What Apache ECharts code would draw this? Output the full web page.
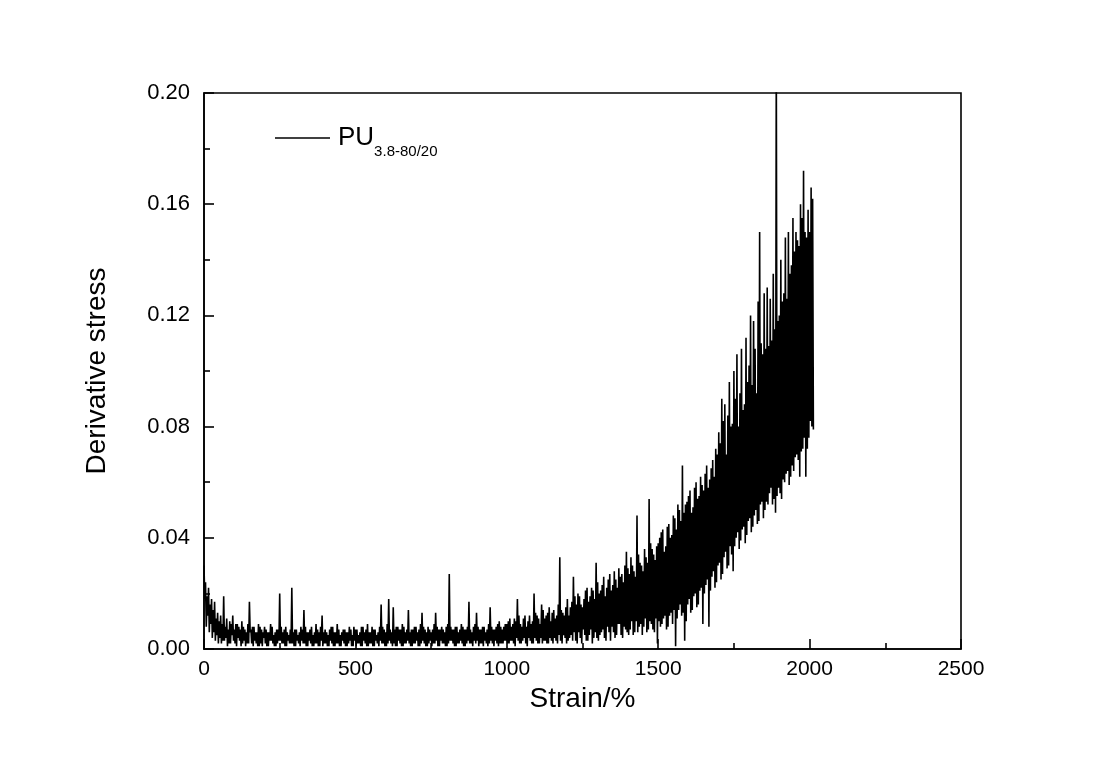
<!DOCTYPE html>
<html>
<head>
<meta charset="utf-8">
<script src="https://cdn.jsdelivr.net/npm/echarts@6/dist/echarts.min.js"></script>
<style>
html,body{margin:0;padding:0;background:#fff;}
#chart{width:1103px;height:773px;}
</style>
</head>
<body>
<div id="chart"></div>
<script>
// Strain (%) between consecutive peak readings; troughs sit half a step later
const STRAIN_STEP = 5;
const TROUGH_OFFSET = 2.5;
// Start strain of each segment
const segmentStarts = [0, 500, 1000, 1500];
// Derivative stress readings (x 0.001): peaks and troughs
const peakA = [30,24,19,22,16,18,14,17,11,13, 10,12,9,19,8,11,7,10,9,12,
 7,9,9,8,7,10,8,7,6,9, 17,7,8,8,6,6,9,8,7,6,
 8,7,6,6,9,8,5,6,7,7, 20,8,6,7,8,6,5,7,22,6,
 7,7,5,6,8,7,14,8,6,6, 7,8,5,6,9,7,6,8,12,6,
 7,6,5,7,8,8,6,6,9,7, 5,6,7,7,6,6,8,7,5,8];
const troughA = [18,8,12,6,9,4,6,3,5,2, 4,2,3,3,4,1,2,2,5,3,
 2,1,4,3,1,2,3,1,2,2, 6,2,1,3,2,1,1,2,1,4,
 2,1,1,3,3,2,1,1,2,3, 3,2,2,1,1,3,2,2,2,1,
 1,3,2,1,3,2,2,1,1,3, 2,1,1,2,2,1,1,3,1,2,
 2,1,1,3,2,1,1,2,2,1, 1,3,2,1,1,2,3,1,1,3];
const peakB = [7,7,5,6,8,8,6,7,9,6, 6,8,7,7,5,6,8,16,8,7,
 6,9,18,7,6,15,7,8,8,7, 7,9,8,6,7,14,6,7,7,8,
 8,6,7,9,13,8,7,6,8,7, 6,7,9,13,8,7,7,8,7,6,
 8,9,27,8,7,7,8,8,6,7, 9,8,7,7,8,17,7,6,8,9,
 13,8,7,7,8,8,6,7,9,15, 8,7,7,8,9,10,8,7,8,9];
const troughB = [1,2,2,1,1,3,2,1,1,2, 2,1,1,3,2,1,3,2,2,1,
 1,2,3,2,1,2,1,1,3,2, 1,1,2,2,3,2,1,1,2,2,
 3,1,1,2,3,2,1,1,2,3, 1,2,2,3,1,1,3,2,2,1,
 1,2,3,3,2,1,1,2,2,3, 2,1,1,2,3,2,2,1,3,2,
 3,1,2,2,1,3,2,1,2,3, 2,1,3,2,1,2,2,2,3,3];
const peakC = [9,10,11,8,9,11,10,18,12,9, 8,11,12,8,10,12,9,10,20,13,
 12,11,9,16,14,11,12,13,15,10, 13,14,11,12,16,33,14,13,12,15,
 18,12,15,17,26,19,16,20,19,16, 15,18,21,22,17,19,22,21,18,31,
 24,20,21,23,26,19,22,25,27,21, 23,28,25,22,29,26,27,24,30,35,
 29,27,33,30,28,26,48,34,31,30, 28,36,33,31,54,38,36,34,32,37];
const troughC = [2,2,3,3,2,1,4,3,2,2, 3,4,2,1,4,3,2,2,4,3,
 2,2,4,2,3,3,2,2,4,3, 2,4,3,2,5,3,2,5,4,2,
 3,4,5,3,6,3,2,6,4,2, 7,5,3,3,5,7,2,4,6,4,
 3,5,6,7,4,3,8,6,3,8, 6,4,5,9,9,5,4,8,7,6,
 5,7,10,5,6,10,6,8,9,5, 8,11,6,7,10,9,7,6,11,2];
const peakD = [38,40,42,43,35,37,44,45,40,41, 48,47,43,52,50,46,66,49,52,53,
 55,57,49,51,58,60,54,55,62,59, 57,63,66,58,61,65,68,62,72,70,
 78,74,90,82,88,70,84,96,80,81, 100,90,106,80,92,108,86,88,112,96,
 102,120,95,118,108,92,125,150,110,106, 128,108,130,109,126,111,135,115,215,118,
 120,140,125,128,148,126,150,135,138,155, 143,150,147,145,160,155,172,150,148,158,
 150,166,162];
const troughD = [10,8,9,11,12,7,8,12,13,9, 14,1,11,14,16,12,13,3,10,16,
 18,13,14,19,20,15,16,21,22,9, 20,23,25,8,21,26,28,22,24,30,
 31,25,27,33,35,29,30,37,34,28, 37,40,42,36,39,43,44,38,41,46,
 47,42,44,48,50,45,46,52,53,47, 50,53,52,56,58,52,54,49,55,58,
 56,54,61,60,63,64,59,62,66,64, 69,70,68,62,71,72,76,62,72,76,
 82,80,79];
const xTickLabels = ['0','500','1000','1500','2000','2500'];
const yTickLabels = ['0.00','0.04','0.08','0.12','0.16','0.20'];
const seriesName = 'PU3.8-80/20';

const peaks = [peakA, peakB, peakC, peakD];
const troughs = [troughA, troughB, troughC, troughD];
const points = [];
peaks.forEach(function (seg, s) {
  seg.forEach(function (v, i) {
    const x0 = segmentStarts[s] + i * STRAIN_STEP;
    points.push([x0, v / 1000]);
    points.push([x0 + TROUGH_OFFSET, troughs[s][i] / 1000]);
  });
});

const FONT = 'Liberation Sans, Arial, sans-serif';
const chart = echarts.init(document.getElementById('chart'), null, {renderer: 'canvas'});
const axisCommon = {
  axisLine: {show: true, onZero: false, lineStyle: {color: '#000', width: 1.6}},
  axisTick: {show: true, inside: true, length: 10, lineStyle: {color: '#000', width: 1.6}},
  minorTick: {show: true, splitNumber: 2, length: 6, lineStyle: {color: '#000', width: 1.6}},
  splitLine: {show: false},
  minorSplitLine: {show: false}
};
chart.setOption({
  animation: false,
  backgroundColor: '#fff',
  grid: {left: 204, right: 142, top: 93, bottom: 124, show: true, borderColor: '#000', borderWidth: 1.6, backgroundColor: 'transparent'},
  legend: {
    left: 270, top: 120,
    itemWidth: 55, itemHeight: 1.5, icon: 'rect', itemGap: 10,
    data: [{name: seriesName}],
    formatter: function () { return '{a|PU}{b|3.8-80/20}'; },
    textStyle: {
      rich: {
        a: {fontSize: 26, fontFamily: FONT, color: '#000', padding: [0, 0, 0, 3]},
        b: {fontSize: 15, fontFamily: FONT, color: '#000', padding: [27, 0, 0, 0]}
      }
    }
  },
  xAxis: Object.assign({
    type: 'value', min: 0, max: 2500, interval: 500,
    name: 'Strain/%', nameLocation: 'middle', nameGap: 29,
    nameTextStyle: {fontSize: 28, fontFamily: FONT, color: '#000'},
    axisLabel: {fontSize: 21, fontFamily: FONT, color: '#000', margin: 10,
      formatter: function (v) { return xTickLabels[Math.round(v / 500)]; }}
  }, axisCommon),
  yAxis: Object.assign({
    type: 'value', min: 0, max: 0.2, interval: 0.04,
    name: 'Derivative stress', nameLocation: 'middle', nameGap: 93,
    nameTextStyle: {fontSize: 28, fontFamily: FONT, color: '#000'},
    axisLabel: {fontSize: 22, fontFamily: FONT, color: '#000', margin: 14,
      formatter: function (v) { return yTickLabels[Math.round(v / 0.04)]; }}
  }, axisCommon),
  series: [{
    name: seriesName,
    type: 'line',
    data: points,
    showSymbol: false,
    symbol: 'none',
    clip: true,
    lineStyle: {color: '#000', width: 1.6},
    itemStyle: {color: '#000'}
  }]
});
</script>
</body>
</html>
